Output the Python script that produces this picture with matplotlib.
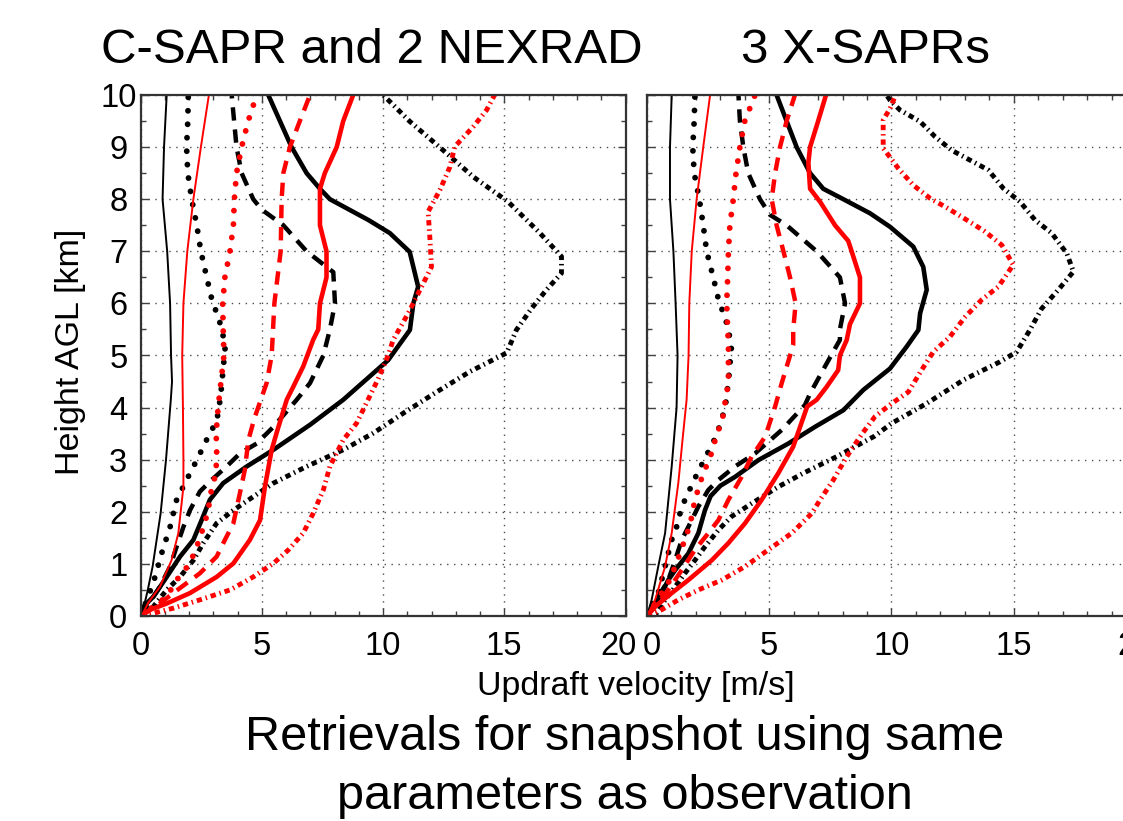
import numpy as np
import matplotlib
matplotlib.use("Agg")
import matplotlib.pyplot as plt
import matplotlib.transforms as mtransforms
from matplotlib.ticker import MultipleLocator

plt.rcParams['font.family'] = ['Liberation Sans', 'DejaVu Sans']

# each curve: rows of (height km, updraft m/s)
# --- left panel: C-SAPR and 2 NEXRAD
L_k_thin = np.array([(0, 0.05), (0.5, 0.3), (0.95, 0.5), (1.97, 0.83), (2.99, 1.05), (4.15, 1.25),
                     (4.5, 1.3), (5, 1.26), (6, 1.22), (7, 1.1), (8, 0.91), (9, 0.97), (10, 1.08)])
L_r_thin = np.array([(0, 0.05), (0.25, 0.31), (0.56, 0.8), (1.07, 1.28), (1.59, 1.56), (2.48, 1.77),
                     (3, 1.77), (4, 1.75), (5, 1.72), (6, 1.77), (7, 1.93), (8, 2.18), (9, 2.49), (10, 2.82)])
L_k_dot = np.array([(0, 0), (0.37, 0.32), (0.75, 0.6), (1.2, 0.87), (1.71, 1.22), (2.23, 1.49), (2.74, 2.04),
                    (2.99, 2.32), (3.51, 2.86), (3.73, 3.14), (4.2, 3.3), (4.7, 3.4), (5.2, 3.5), (5.75, 3.21),
                    (6, 2.98), (6.5, 2.73), (7, 2.49), (7.5, 2.32), (8, 2.11), (8.5, 1.95), (9, 1.9),
                    (9.5, 1.95), (10, 1.97)])
L_r_dot = np.array([(0, 0), (0.37, 1.08), (0.69, 1.49), (1.01, 2.04), (1.49, 2.45), (2.03, 2.8), (2.29, 2.86),
                    (2.67, 3.07), (3.0, 3.15), (3.5, 3.12), (4.0, 3.2), (4.5, 3.32), (5, 3.44), (5.5, 3.41),
                    (6, 3.39), (6.5, 3.48), (7, 3.69), (7.5, 3.83), (8, 3.87), (8.5, 3.96), (9, 4.17),
                    (9.5, 4.44), (10, 4.79)])
L_k_dash = np.array([(0, 0), (0.56, 0.8), (0.95, 1.22), (1.33, 1.49), (1.71, 1.77), (2.03, 2.04), (2.39, 2.45),
                     (2.61, 2.93), (2.87, 3.55), (3.12, 4.1), (3.31, 4.79), (3.63, 5.48), (4.15, 6.44),
                     (4.47, 6.99), (5, 7.54), (5.5, 7.81), (6, 8.02), (6.6, 7.95), (7, 6.85), (7.5, 5.89),
                     (7.8, 5.0), (8, 4.65), (8.5, 4.17), (9, 3.96), (10, 3.76)])
L_r_dash = np.array([(0, 0), (0.24, 0.8), (0.44, 1.35), (0.63, 1.9), (0.82, 2.45), (1.14, 3.14), (1.46, 3.48),
                     (1.78, 3.83), (2.36, 4.1), (2.8, 4.3), (3.38, 4.45), (3.8, 4.7), (4.47, 5.2), (5, 5.41),
                     (6, 5.52), (7, 5.78), (8, 5.82), (8.5, 5.89), (9, 6.16), (9.5, 6.57), (10, 6.99)])
L_k_thick = np.array([(0, 0), (0.18, 0.12), (0.37, 0.53), (0.75, 1.08), (1.14, 1.63), (1.46, 2.18),
                      (1.84, 2.52), (2.23, 2.86), (2.55, 3.41), (2.87, 4.38), (3.19, 5.48), (3.67, 6.99),
                      (4.15, 8.36), (4.91, 10.21), (5.49, 11.11), (6.0, 11.25), (6.32, 11.45), (6.99, 11.1),
                      (7.35, 10.28), (7.6, 9.4), (8, 7.81), (8.2, 7.4), (8.5, 6.85), (9, 6.23), (9.5, 5.75),
                      (10, 5.27)])
L_r_thick = np.array([(0, 0), (0.12, 0.4), (0.24, 1.08), (0.44, 2.04), (0.75, 3.14), (1.01, 3.83),
                      (1.46, 4.51), (1.84, 4.93), (2.48, 5.13), (3.19, 5.41), (3.51, 5.61), (4.15, 6.03),
                      (4.4, 6.3), (4.79, 6.71), (5.3, 7.12), (5.5, 7.33), (6, 7.4), (6.5, 7.67), (7, 7.67),
                      (7.5, 7.4), (8.2, 7.4), (8.5, 7.6), (9, 8.09), (9.5, 8.36), (10, 8.77)])
L_k_dd = np.array([(0, 0), (0.18, 0.53), (0.5, 1.08), (0.75, 1.63), (1.07, 2.18), (1.4, 2.59), (1.78, 3.14),
                   (2.03, 3.83), (2.29, 4.65), (2.55, 5.48), (2.87, 6.85), (3.19, 8.36), (3.51, 9.6),
                   (3.89, 10.83), (4.3, 12.21), (4.69, 13.58), (5.05, 15.1), (5.49, 15.5), (5.9, 16.12),
                   (6.26, 16.74), (6.58, 17.36), (6.9, 17.36), (7.35, 16.47), (7.95, 15.16), (8.43, 13.72),
                   (8.94, 12.48), (9.49, 11.11), (10, 10.01)])
L_r_dd = np.array([(0, 0), (0.05, 0.5), (0.15, 1.35), (0.31, 2.45), (0.5, 3.69), (0.75, 4.65), (1.01, 5.48),
                   (1.27, 6.1), (1.59, 6.71), (1.97, 7.12), (2.42, 7.54), (2.87, 7.81), (3.38, 8.36),
                   (3.7, 8.91), (4.55, 9.8), (5.0, 10.21), (5.3, 10.42), (5.81, 11.04), (6.32, 11.59),
                   (6.7, 12.0), (7.28, 11.93), (7.76, 11.86), (8.18, 12.35), (8.62, 12.76), (9.01, 12.96),
                   (9.39, 13.72), (9.71, 14.27), (10, 14.6)])

# --- right panel: 3 X-SAPRs
R_k_thin = np.array([(0, 0), (0.31, 0.19), (0.95, 0.46), (1.59, 0.74), (2.87, 1.01), (4, 1.21), (5, 1.25),
                     (6, 1.17), (7, 1.08), (8, 0.94), (9, 0.94), (10, 1.01)])
R_r_thin = np.array([(0, 0), (0.31, 0.33), (0.95, 0.74), (1.59, 1.01), (2.55, 1.28), (3.51, 1.48),
                     (4.15, 1.62), (5, 1.7), (6, 1.73), (7, 1.83), (8, 2.03), (9, 2.3), (10, 2.58)])
R_k_dot = np.array([(0, 0), (0.44, 0.46), (0.69, 0.6), (0.95, 0.74), (1.2, 0.87), (1.46, 1.01), (1.71, 1.21),
                    (1.97, 1.35), (2.23, 1.55), (2.71, 2.03), (2.96, 2.3), (3.47, 2.85), (4, 3.2), (4.6, 3.35),
                    (5.2, 3.46), (5.75, 3.19), (6, 2.96), (6.5, 2.71), (7, 2.44), (7.5, 2.3), (8, 2.14),
                    (8.5, 1.93), (9, 1.87), (9.5, 1.93), (10, 1.96)])
R_r_dot = np.array([(0, 0), (0.69, 0.94), (1.2, 1.35), (1.75, 1.76), (2.23, 1.96), (2.74, 2.3), (2.96, 2.51),
                    (3.22, 2.71), (3.51, 2.85), (3.7, 3.06), (4.09, 3.19), (4.47, 3.33), (5.2, 3.33),
                    (5.5, 3.3), (6, 3.26), (6.5, 3.3), (7, 3.33), (7.5, 3.39), (8, 3.53), (8.5, 3.64),
                    (9, 3.8), (9.5, 4.0), (10, 4.42)])
R_k_dash = np.array([(0, 0), (0.37, 0.46), (0.69, 0.87), (1.07, 1.15), (1.46, 1.42), (1.71, 1.69), (2.1, 2.1),
                     (2.42, 2.51), (2.61, 2.92), (2.87, 3.6), (3.12, 4.42), (3.57, 5.51), (4.05, 6.46),
                     (4.27, 6.67), (4.79, 7.28), (5.3, 7.89), (5.5, 7.89), (6, 8.1), (6.5, 7.89), (7, 6.94),
                     (7.5, 5.71), (7.7, 5.03), (8, 4.62), (8.5, 4.14), (9, 3.94), (9.5, 3.8), (10, 3.74)])
R_r_dash = np.array([(0, 0), (0.18, 0.33), (0.5, 0.87), (0.88, 1.42), (1.27, 1.96), (1.59, 2.51), (1.84, 2.92),
                     (2.23, 3.33), (2.67, 3.87), (3.06, 4.28), (3.44, 4.83), (4.02, 5.24), (4.47, 5.51),
                     (5.2, 5.98), (5.5, 5.98), (6, 6.08), (6.5, 5.85), (7, 5.58), (7.5, 5.3), (8, 5.1),
                     (8.5, 5.24), (9, 5.44), (9.5, 5.71), (10, 6.05)])
R_k_thick = np.array([(0, 0), (0.12, 0.19), (0.44, 0.6), (0.69, 0.87), (0.88, 1.15), (1.2, 1.69), (1.59, 2.1),
                      (2.03, 2.37), (2.3, 2.6), (2.5, 3.0), (2.67, 3.6), (2.99, 4.55), (3.31, 5.78), (3.63, 6.87),
                      (3.95, 8.03), (4.34, 8.85), (4.75, 9.94), (5.17, 10.62), (5.49, 11.1), (5.81, 11.17),
                      (6.26, 11.44), (6.7, 11.3), (7.09, 10.89), (7.47, 9.94), (7.73, 9.12), (8, 8.03),
                      (8.2, 7.21), (8.5, 6.67), (9, 6.12), (9.5, 5.71), (10, 5.3)])
R_r_thick = np.array([(0, 0), (0.18, 0.33), (0.44, 1.01), (0.69, 1.69), (1.07, 2.65), (1.4, 3.33),
                      (1.78, 4.01), (2.23, 4.69), (2.74, 5.37), (3.25, 5.98), (4.02, 6.55), (4.15, 6.94),
                      (4.4, 7.35), (4.72, 7.82), (5.0, 7.89), (5.3, 8.17), (5.6, 8.3), (6, 8.71), (6.5, 8.71),
                      (7, 8.37), (7.2, 8.23), (7.5, 7.69), (7.95, 7.08), (8.2, 6.67), (8.7, 6.6), (9, 6.67),
                      (9.5, 7.0), (10, 7.32)])
R_k_dd = np.array([(0, 0), (0.06, 0.4), (0.31, 0.74), (0.56, 1.15), (0.82, 1.55), (1.07, 1.96), (1.33, 2.37),
                   (1.65, 2.92), (1.91, 3.46), (2.16, 4.28), (2.48, 5.37), (2.74, 6.39), (3.06, 7.76),
                   (3.45, 9.3), (3.7, 10.01), (4.08, 11.44), (4.53, 12.94), (4.88, 14.44), (5.07, 15.12),
                   (5.49, 15.66), (5.9, 16.14), (6.26, 16.82), (6.61, 17.44), (6.96, 17.17), (7.35, 16.55),
                   (7.6, 15.87), (7.95, 15.26), (8.21, 14.57), (8.56, 13.96), (8.75, 13.21), (8.94, 12.46),
                   (9.2, 11.78), (9.49, 11.17), (9.71, 10.35), (9.9, 9.94), (10, 9.8)])
R_r_dd = np.array([(0, 0), (0.12, 0.6), (0.31, 1.28), (0.5, 2.1), (0.69, 3.06), (0.95, 4.01), (1.27, 4.96),
                   (1.59, 5.92), (1.97, 6.74), (2.23, 7.08), (2.61, 7.62), (3.06, 8.17), (3.5, 8.8),
                   (3.83, 9.33), (4.08, 10.01), (4.3, 10.69), (4.72, 11.23), (5.07, 11.71), (5.36, 12.39),
                   (5.74, 13.01), (6.07, 13.69), (6.32, 14.37), (6.74, 14.98), (7.12, 14.51), (7.38, 13.82),
                   (7.6, 13.08), (7.82, 12.32), (8.02, 11.57), (8.27, 10.89), (8.59, 10.28), (8.98, 9.66),
                   (9.26, 9.66), (9.52, 9.66), (9.74, 9.94), (9.97, 10.14)])

xticks = [0, 5, 10, 15, 20]
yticks = list(range(0, 11))

styles = {
    'thin':  dict(lw=1.4, ls='-'),
    'dot':   dict(lw=4.2, ls=(0, (0.01, 2.3)), dash_capstyle='round'),
    'dash':  dict(lw=3.2, ls=(0, (3.0, 2.0))),
    'thick': dict(lw=3.3, ls='-'),
    'dd':    dict(lw=3.5, ls=(0, (1.1, 0.8, 0.3, 0.8))),
}

left_curves = [(L_k_thin, 'k', 'thin'), (L_k_dot, 'k', 'dot'), (L_k_dash, 'k', 'dash'),
               (L_k_thick, 'k', 'thick'), (L_k_dd, 'k', 'dd'),
               (L_r_thin, 'r', 'thin'), (L_r_dot, 'r', 'dot'), (L_r_dash, 'r', 'dash'),
               (L_r_thick, 'r', 'thick'), (L_r_dd, 'r', 'dd')]
right_curves = [(R_k_thin, 'k', 'thin'), (R_k_dot, 'k', 'dot'), (R_k_dash, 'k', 'dash'),
                (R_k_thick, 'k', 'thick'), (R_k_dd, 'k', 'dd'),
                (R_r_thin, 'r', 'thin'), (R_r_dot, 'r', 'dot'), (R_r_dash, 'r', 'dash'),
                (R_r_thick, 'r', 'thick'), (R_r_dd, 'r', 'dd')]

W, H = 1123, 821
fig = plt.figure(figsize=(W / 100, H / 100), dpi=100)
ax1 = fig.add_axes([140.5 / W, 205 / H, 485 / W, 521 / H])
ax2 = fig.add_axes([647 / W, 205 / H, 489 / W, 521 / H])

def setup(ax, curves, show_ylabels):
    for data, col, sty in curves:
        c = '#000000' if col == 'k' else '#ff0000'
        ax.plot(data[:, 1], data[:, 0], color=c, **styles[sty])
    ax.set_xlim(0, 20)
    ax.set_ylim(0, 10)
    ax.set_xticks(xticks)
    ax.set_yticks(yticks)
    ax.xaxis.set_minor_locator(MultipleLocator(1))
    ax.yaxis.set_minor_locator(MultipleLocator(0.5))
    ax.tick_params(which='both', direction='in', top=True, right=True, color='0.25')
    ax.tick_params(which='major', length=6, width=1, labelsize=23.5, pad=11)
    ax.tick_params(which='minor', length=3.5, width=1)
    ax.tick_params(axis='y', pad=16)
    ax.grid(True, which='major', linestyle=(0, (1, 4)), color='0.3', lw=1.0)
    for sp in ax.spines.values():
        sp.set_linewidth(1.6)
        sp.set_color('0.2')
    if show_ylabels:
        for lab in ax.get_yticklabels():
            lab.set_horizontalalignment('center')
    else:
        ax.tick_params(labelleft=False)

setup(ax1, left_curves, True)
setup(ax2, right_curves, False)

# the two panels' end labels sit a little apart, as in the original
lab20 = ax1.get_xticklabels()[-1]
lab20.set_transform(lab20.get_transform() + mtransforms.ScaledTranslation(-7 / 100, 0, fig.dpi_scale_trans))
lab0 = ax2.get_xticklabels()[0]
lab0.set_transform(lab0.get_transform() + mtransforms.ScaledTranslation(5 / 100, 0, fig.dpi_scale_trans))

fig.text(371.6 / W, 1 - 63.3 / H, 'C-SAPR and 2 NEXRAD', ha='center', va='baseline', fontsize=35.5)
fig.text(865.8 / W, 1 - 63.3 / H, '3 X-SAPRs', ha='center', va='baseline', fontsize=35.5)
fig.text(636 / W, 1 - 695 / H, 'Updraft velocity [m/s]', ha='center', va='baseline', fontsize=24.5)
fig.text(70 / W, 1 - 352 / H, 'Height AGL [km]', ha='center', va='center', rotation=90, fontsize=24.5)
fig.text(625 / W, 1 - 750 / H, 'Retrievals for snapshot using same', ha='center', va='baseline', fontsize=35)
fig.text(625 / W, 1 - 809 / H, 'parameters as observation', ha='center', va='baseline', fontsize=35)

fig.savefig('out.png', dpi=100)
